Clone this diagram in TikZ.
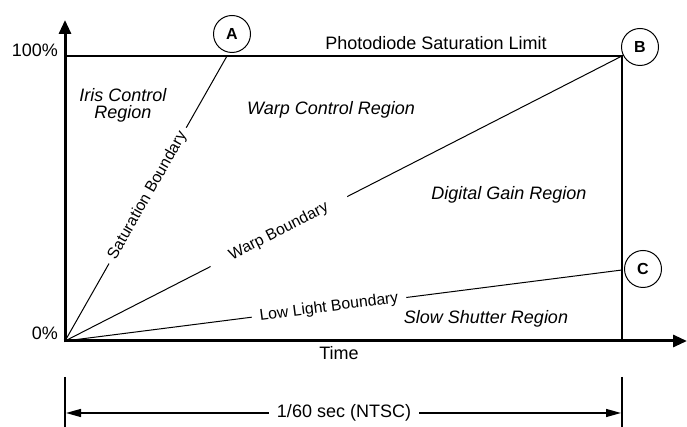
\documentclass[tikz,border=0pt]{standalone}
\usepackage{fontspec}
\setmainfont{Liberation Sans}
\usetikzlibrary{positioning,arrows.meta}

\begin{document}
\begin{tikzpicture}[x=1pt,y=1pt,
    axis/.style={line width=3pt, -{Triangle[length=14pt,width=12pt]}},
    frame/.style={line width=2pt},
    bound/.style={line width=1pt},
    region/.style={font=\fontsize{18}{17}\selectfont\itshape, align=center},
    txt/.style={font=\fontsize{18}{21}\selectfont},
    lbl/.style={font=\fontsize{15.8}{18}\selectfont, sloped, fill=white, inner ysep=0pt},
    ptcircle/.style={circle, draw, line width=1pt, minimum size=37pt, inner sep=0pt, font=\fontsize{16}{16}\selectfont\bfseries},
    dim/.style={line width=1.3pt, -{Triangle[length=15pt,width=8pt]}},
    tickline/.style={line width=2pt}
]
\useasboundingbox (0,0) rectangle (687,427);

% corners of the plot
\coordinate (O)    at (65,86);
\coordinate (ytop) at (65,407);
\coordinate (xend) at (687,86);
\coordinate (tl)   at (65,371);
\coordinate (tr)   at (622,371);
\coordinate (br)   at (622,86);
\coordinate (sat)  at (227,371);
\coordinate (low)  at (622,157);

\draw[axis] (65,84.5) -- (ytop);
\draw[axis] (63.5,86) -- (xend);
\draw[frame] (tl) -- (tr) -- (br);

% boundaries
\draw[bound] (O) -- node[lbl, pos=.51, inner xsep=6pt] {Saturation Boundary} (sat);
\draw[bound] (O) -- node[lbl, pos=.384, inner xsep=22pt] {Warp Boundary} (tr);
\draw[bound] (O) -- node[lbl, pos=.474, inner xsep=8pt] {Low Light Boundary} (low);

\node[ptcircle] (A) at (232,393) {A};
\node[ptcircle] (B) at (640,380) {B};
\node[ptcircle] (C) at (643,158) {C};

\node[txt, anchor=east, inner sep=0pt] (p100) at (58,377) {100\%};
\node[txt, anchor=east, inner sep=0pt] (p0)   at (58,94)  {0\%};
\node[txt] (time)  at (339,74)  {Time};
\node[txt] (limit) at (436,384) {Photodiode Saturation Limit};

\node[region] (iris) at (123,322) {Iris Control\\Region};
\node[region] (warp) at (331,317) {Warp Control Region};
\node[region] (gain) at (509,232) {Digital Gain Region};
\node[region] (slow) at (486,108) {Slow Shutter Region};

% frame period
\coordinate (k0a) at (65,50);  \coordinate (k0b) at (65,0);
\coordinate (k1a) at (622,50); \coordinate (k1b) at (622,0);
\coordinate (d0)  at (66,14);  \coordinate (d1)  at (621,14);
\draw[tickline] (k0a) -- (k0b);
\draw[tickline] (k1a) -- (k1b);
\node[txt, inner xsep=8pt] (span) at (344,14) {1/60 sec (NTSC)};
\draw[dim] (span) -- (d0);
\draw[dim] (span) -- (d1);
\end{tikzpicture}
\end{document}
